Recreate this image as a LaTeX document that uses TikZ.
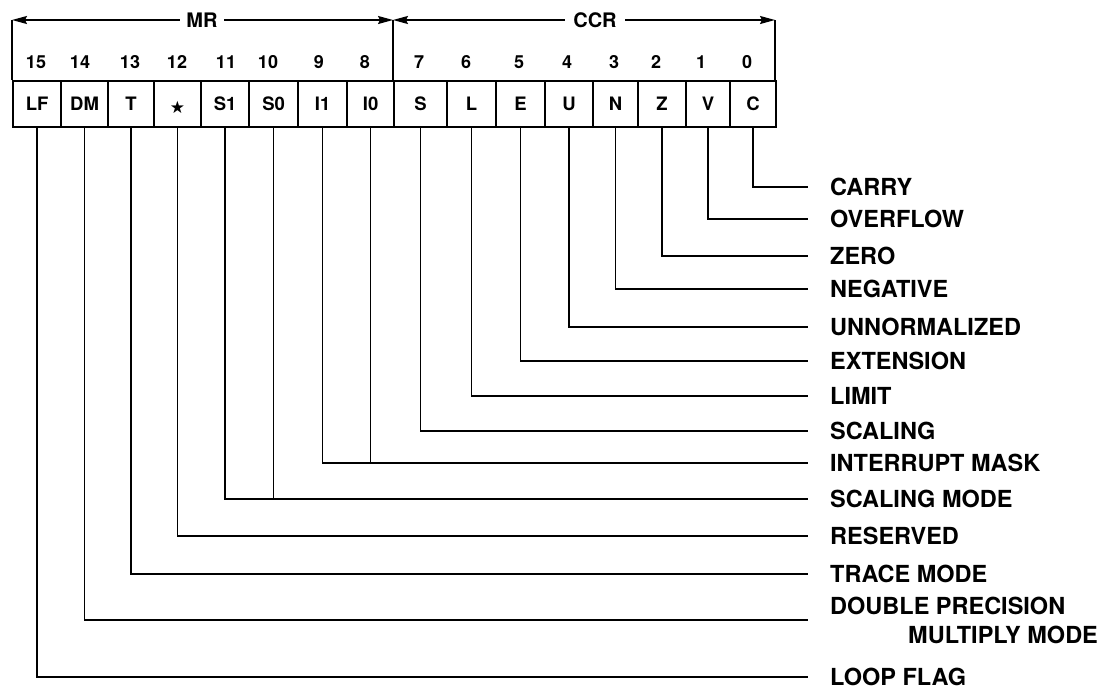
\documentclass[tikz,border=0pt]{standalone}
\usepackage{fontspec}
\setmainfont{TeX Gyre Heros}
\newfontfamily\symfont{DejaVu Sans}
\usetikzlibrary{arrows.meta}
\begin{document}
\begin{tikzpicture}[x=1pt,y=-1pt,
  cell/.style={draw, line width=2.2pt, minimum height=46pt, inner sep=0pt,
    text height=13pt, text depth=0pt, font=\fontsize{18.5}{18.5}\selectfont\bfseries, anchor=north west},
  bitnum/.style={inner sep=0pt, font=\fontsize{18}{18}\selectfont\bfseries},
  lbl/.style={anchor=west, inner xsep=0pt, inner ysep=2pt, font=\fontsize{23.5}{29}\selectfont\bfseries},
  lead/.style={line width=1.7pt},
  dim/.style={line width=1.7pt, {Stealth[length=15pt,width=8pt,inset=2pt]}-{Stealth[length=15pt,width=8pt,inset=2pt]}},
  regname/.style={fill=white, inner xsep=6pt, inner ysep=1pt, font=\fontsize{20}{20}\selectfont\bfseries}
]
\useasboundingbox (0,0) rectangle (1109,691);

% register cells
\foreach \n/\l/\r/\t in {15/12/60/LF, 14/60/107/DM, 13/107/153/T,
  12/153/200/{{\symfont\fontsize{17}{17}\selectfont\raisebox{-3pt}{★}}},
  11/200/248/S1, 10/248/297/S0, 9/297/346/I1, 8/346/393/I0,
  7/393/446/S, 6/446/495/L, 5/495/544/E, 4/544/592/U,
  3/592/637/N, 2/637/685/Z, 1/685/729/V, 0/729/775/C}
  \node[cell, minimum width={\r-\l}] (c\n) at (\l,80) {\t};

% bit numbers
\foreach \n/\x in {15/36, 14/80, 13/130, 12/177, 11/226, 10/268, 9/319, 8/365,
  7/419, 6/466, 5/519, 4/567, 3/614, 2/656, 1/701, 0/747}
  \node[bitnum] (b\n) at (\x,62) {\n};

% register extent arrows
\coordinate (mrL) at (12,20);
\coordinate (mrR) at (393,20);
\coordinate (ccR) at (775,20);
\draw[lead] (mrL) -- (mrL |- c15.north);
\draw[lead] (mrR) -- (mrR |- c8.north);
\draw[lead] (ccR) -- (ccR |- c0.north);
\draw[dim] (mrL) -- (mrR);
\draw[dim] (mrR) -- (ccR);
\node[regname] (mr) at (202,20) {MR};
\node[regname, inner xsep=8pt] (ccr) at (595,20) {CCR};

% labels
\node[lbl] (lC)  at (830,187) {CARRY};
\node[lbl] (lV)  at (830,219) {OVERFLOW};
\node[lbl] (lZ)  at (830,256) {ZERO};
\node[lbl] (lN)  at (830,289) {NEGATIVE};
\node[lbl] (lU)  at (830,327) {UNNORMALIZED};
\node[lbl] (lE)  at (830,361) {EXTENSION};
\node[lbl] (lL)  at (830,396) {LIMIT};
\node[lbl] (lS)  at (830,431) {SCALING};
\node[lbl] (lI)  at (830,463) {INTERRUPT MASK};
\node[lbl] (lSM) at (830,499) {SCALING MODE};
\node[lbl] (lR)  at (830,536) {RESERVED};
\node[lbl] (lT)  at (830,574) {TRACE MODE};
\node[lbl, align=left] (lD) at (830,620) {DOUBLE PRECISION\\\hspace*{78pt}MULTIPLY MODE};
\node[lbl] (lLF) at (830,677) {LOOP FLAG};

% leaders
\draw[lead] (c0.south)  |- ([xshift=-22pt]lC.west);
\draw[lead] (c1.south)  |- ([xshift=-22pt]lV.west);
\draw[lead] (c2.south)  |- ([xshift=-22pt]lZ.west);
\draw[lead] (c3.south)  |- ([xshift=-22pt]lN.west);
\draw[lead] (c4.south)  |- ([xshift=-22pt]lU.west);
\draw[lead] (c5.south)  |- ([xshift=-22pt]lE.west);
\draw[lead] (c6.south)  |- ([xshift=-22pt]lL.west);
\draw[lead] (c7.south)  |- ([xshift=-22pt]lS.west);
\draw[lead] (c9.south)  |- ([xshift=-22pt]lI.west);
\draw[lead] (c8.south)  -- (c8.south |- lI.west);
\draw[lead] (c11.south) |- ([xshift=-22pt]lSM.west);
\draw[lead] (c10.south) -- (c10.south |- lSM.west);
\draw[lead] (c12.south) |- ([xshift=-22pt]lR.west);
\draw[lead] (c13.south) |- ([xshift=-22pt]lT.west);
\draw[lead] (c14.south) |- ([xshift=-22pt]lD.west);
\draw[lead] (c15.south) |- ([xshift=-22pt]lLF.west);
\end{tikzpicture}
\end{document}
